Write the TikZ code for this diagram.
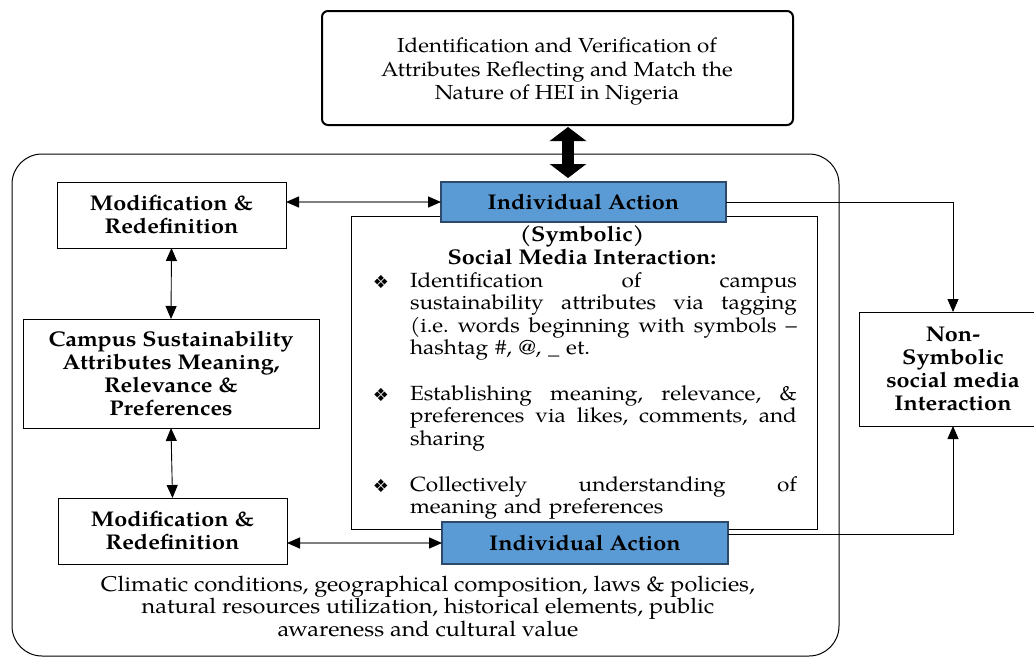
\documentclass[tikz,border=0pt]{standalone}
\usepackage{fontspec}
\setmainfont{texgyrepagella}[Extension=.otf,UprightFont=*-regular,BoldFont=*-bold,ItalicFont=*-italic,BoldItalicFont=*-bolditalic,FakeStretch=1.1]
\newfontfamily\symfont{DejaVu Sans}
\usetikzlibrary{arrows.meta,calc}
\definecolor{actfill}{HTML}{5B9BD5}
\definecolor{actline}{HTML}{2E4A6B}
\definecolor{linkgray}{HTML}{7F7F7F}
% one justified line of a bullet item (words separated by \hfill)
\newcommand\jl[1]{\leavevmode\hbox to 387pt{#1}}

\begin{document}
\begin{tikzpicture}[x=1pt,y=-1pt,
  every node/.style={inner sep=0pt, outer sep=0pt},
  btxt/.style={font=\fontsize{21.3}{23}\selectfont\bfseries, align=center},
  plainbox/.style={draw, line width=1pt, fill=white, btxt},
  actbox/.style={draw=actline, line width=1.3pt, fill=actfill, btxt},
  itemtext/.style={font=\fontsize{20.5}{22.6}\selectfont, text width=387pt, align=left, anchor=base west},
  bullet/.style={font=\symfont\fontsize{18}{18}\selectfont},
  >={Triangle[length=13pt,width=11pt,color=black]},
  link/.style={line width=0.9pt, draw=black},
  graylink/.style={line width=1.4pt, draw=linkgray},
  bigarrow/.style={line width=12pt, {Triangle[length=14pt,width=36pt]}-{Triangle[length=14pt,width=36pt]}},
]
\useasboundingbox (0,0) rectangle (1034,659);
\clip (0,0) rectangle (1034,659);

% environment frame
\node[draw, line width=1pt, rounded corners=30pt, minimum width=827pt, minimum height=502pt, anchor=north west] (env) at (12,154) {};

% goal box at the top
\node[draw, line width=2pt, rounded corners=6pt, minimum width=471pt, minimum height=114pt, anchor=north west] (goal) at (322,11) {};
\node[font=\fontsize{20.3}{23.5}\selectfont, align=center, anchor=base] (goaltext) at (557,99.5)
  {Identification and Verification of\\Attributes Reflecting and Match the\\Nature of HEI in Nigeria};

% symbolic interaction panel
\node[draw, line width=1pt, minimum width=466pt, minimum height=313pt, anchor=north west] (sym) at (351,216) {};
\node[btxt, anchor=base] (symtitle) at (582,264) {(Symbolic)\\Social Media Interaction:};

\node[bullet] (d1) at (381,282) {❖};
\node[itemtext] (it1) at (410,287)
  {\jl{Identification\hfill of\hfill campus}\\
   \jl{sustainability\hfill attributes\hfill via\hfill tagging}\\
   \jl{(i.e.\hfill words\hfill beginning\hfill with\hfill symbols\hfill –}\\
   hashtag \#, @, \_ et.};
\node[bullet] (d2) at (381,395) {❖};
\node[itemtext] (it2) at (410,400)
  {\jl{Establishing\hfill meaning,\hfill relevance,\hfill \&}\\
   \jl{preferences\hfill via\hfill likes,\hfill comments,\hfill and}\\
   sharing};
\node[bullet] (d3) at (381,486) {❖};
\node[itemtext] (it3) at (410,491)
  {\jl{Collectively\hfill understanding\hfill of}\\
   meaning and preferences};

% individual action boxes
\node[actbox, minimum width=285pt, minimum height=40pt, anchor=north west] (ia1) at (441,182) {Individual Action};
\node[actbox, minimum width=286pt, minimum height=42pt, anchor=north west] (ia2) at (442,522) {Individual Action};

% left column
\node[plainbox, minimum width=229pt, minimum height=66pt, anchor=north west] (mod1) at (57,182) {Modification \&\\Redefinition};
\node[plainbox, minimum width=296pt, minimum height=109pt, anchor=north west] (campus) at (23,319)
  {Campus Sustainability\\Attributes Meaning,\\Relevance \&\\Preferences};
\node[plainbox, minimum width=229pt, minimum height=66pt, anchor=north west] (mod2) at (58,498) {Modification \&\\Redefinition};

% non-symbolic interaction
\node[plainbox, minimum width=188pt, minimum height=114pt, anchor=north west] (nonsym) at (859,312)
  {Non-\\Symbolic\\social media\\Interaction};

% context factors
\node[font=\fontsize{21.3}{22.5}\selectfont, align=center, anchor=base] (ctx) at (428,636)
  {Climatic conditions, geographical composition, laws \& policies,\\natural resources utilization, historical elements, public\\awareness and cultural value};

% connectors
\coordinate (g1) at ($(goal.south)+(10.5,2)$);
\coordinate (g2) at ($(g1 |- ia1.north)+(0,-4)$);
\draw[bigarrow] (g1) -- (g2);

\draw[graylink, <->] (ia1.west -| mod1.east) -- (ia1.west);
\draw[graylink, <->] (ia2.west -| mod2.east) -- (ia2.west);
\draw[link, <->] (mod1.south) -- (campus.north);
\draw[link, <->] (campus.south) -- (mod2.north);
\draw[link, ->] (ia1.east) -| (nonsym.north);
\draw[link, ->] ($(ia2.north east)+(0,12)$) -| (nonsym.south);
\end{tikzpicture}
\end{document}
